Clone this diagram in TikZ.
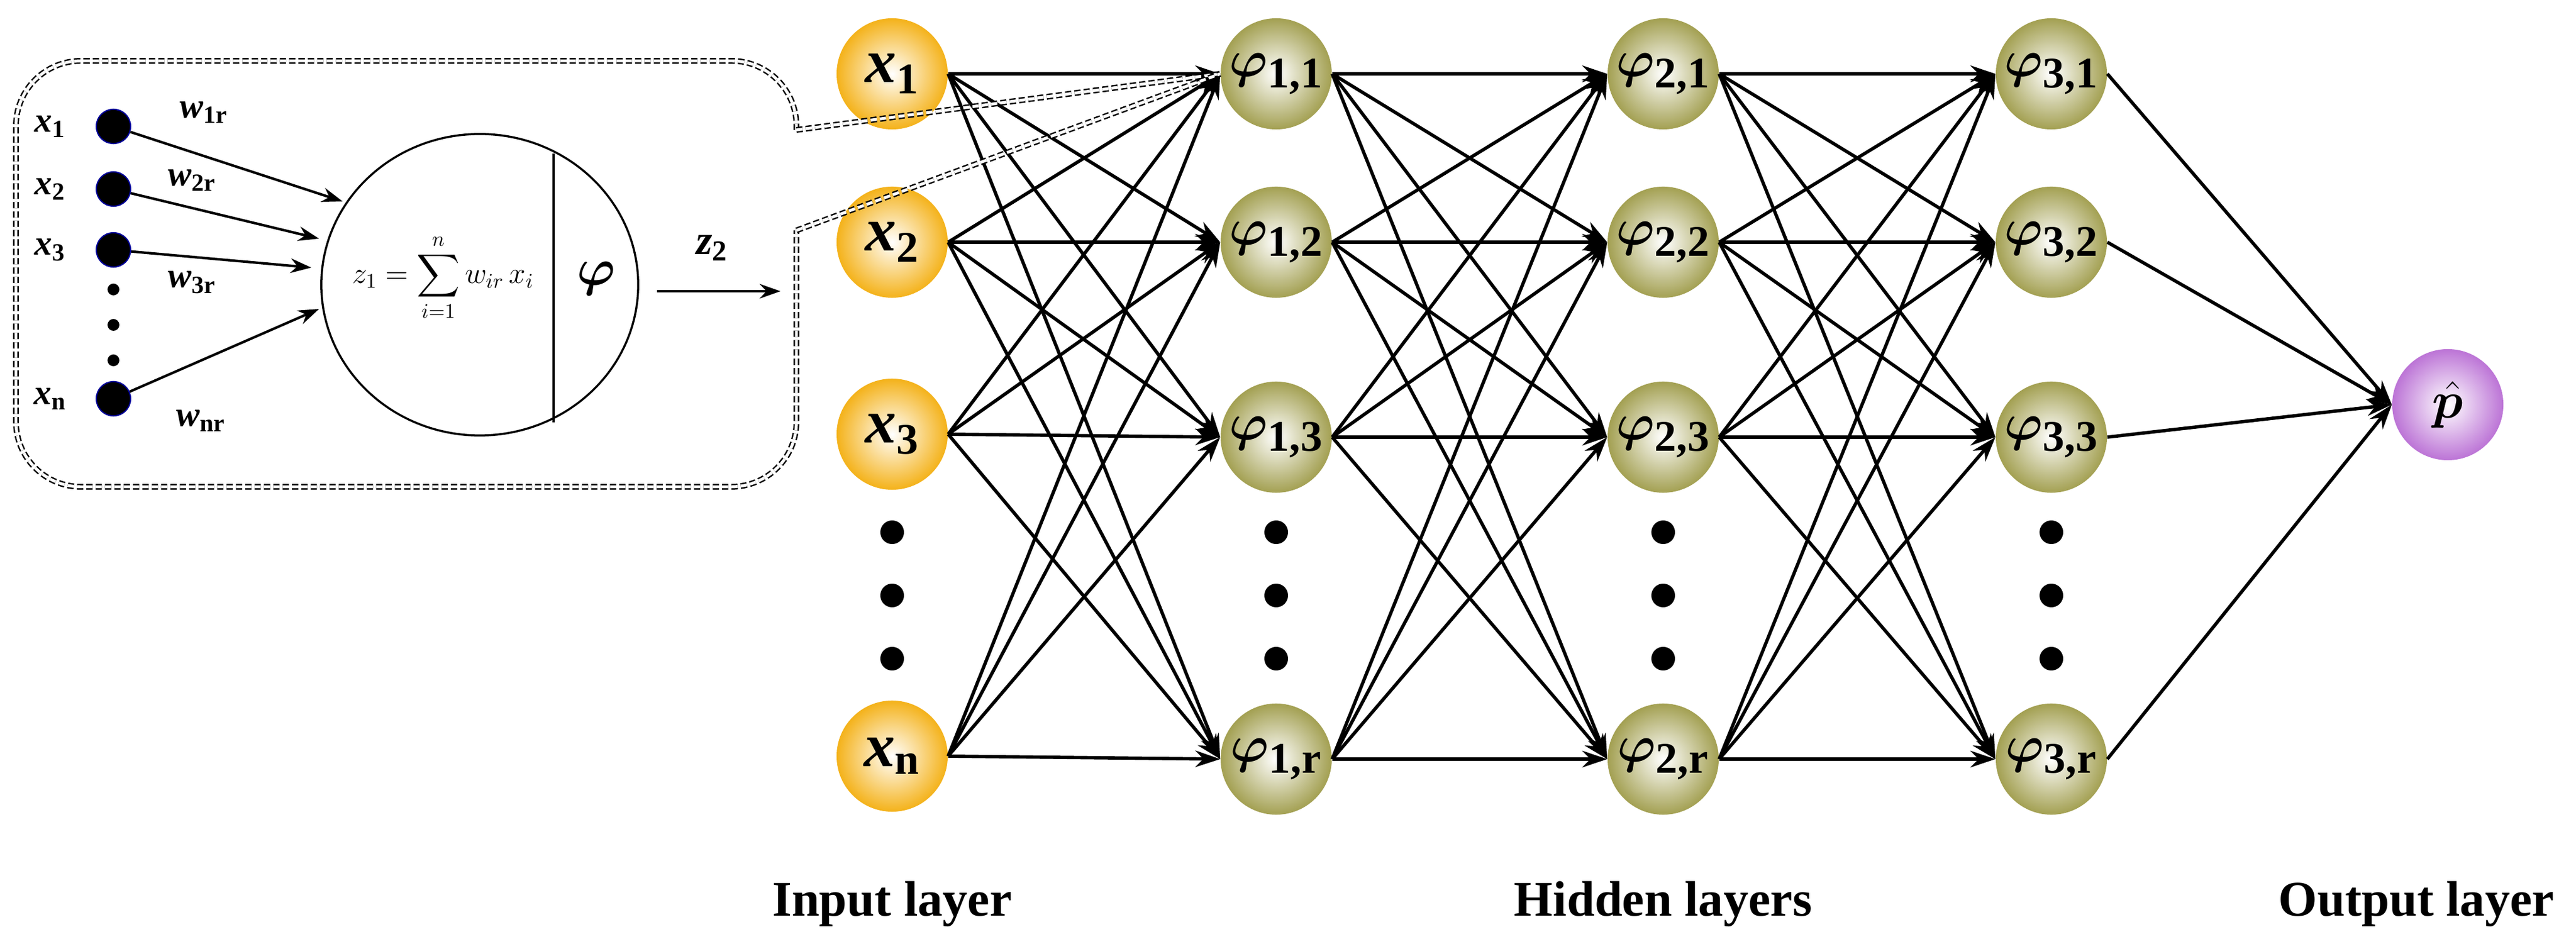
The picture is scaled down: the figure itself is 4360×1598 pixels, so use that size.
\documentclass[tikz,border=0pt]{standalone}
\usepackage{amsmath,bm}
\usepackage{fontspec}
\setmainfont{Liberation Serif}
\usetikzlibrary{arrows.meta,shapes.geometric}
\definecolor{yel}{HTML}{F4B21A}
\definecolor{oli}{HTML}{A3A052}
\definecolor{pur}{HTML}{BC74D6}
\begin{document}
\begin{tikzpicture}[x=0.01cm,y=-0.01cm,
  neuron/.style={circle,minimum size=1.88cm,inner sep=0pt,font=\fontsize{30}{32}\selectfont\bfseries},
  inp/.style={neuron,shading=radial,inner color=white,outer color=yel},
  hid/.style={neuron,shading=radial,inner color=white,outer color=oli},
  outn/.style={neuron,shading=radial,inner color=white,outer color=pur},
  conn/.style={-{Stealth[length=12pt,width=8pt]},line width=1.6pt},
  iconn/.style={-{Stealth[length=10pt,width=7pt]},line width=1.2pt},
  dbl/.style={double,line width=0.7pt,double distance=1.4pt,dash pattern=on 3pt off 1.5pt},
  dot/.style={circle,fill=black,minimum size=0.4cm,inner sep=0pt},
  lay/.style={font=\fontsize{24}{26}\selectfont\bfseries},
  ilab/.style={font=\fontsize{17}{19}\selectfont\bfseries\itshape},
  idot/.style={circle,fill=black,draw=blue!60!black,line width=0.6pt,minimum size=0.58cm,inner sep=0pt},
  sdot/.style={circle,fill=black,minimum size=0.2cm,inner sep=0pt}]
\useasboundingbox (0,0) rectangle (4360,1598);
\newcommand{\ph}[2]{$\bm{\varphi}_{\textbf{#1,#2}}$}
% network nodes
\foreach \r/\y/\s in {1/125/1,2/410/2,3/735/3,r/1280/n}{
  \node[inp] (x\r) at (1510,\y) {\textbf{\textit{x}}\textsubscript{\textbf{\s}}};
}
\foreach \L/\xx in {1/2160,2/2815,3/3472}{
  \foreach \r/\y/\s in {1/125/1,2/410/2,3/740/3,r/1285/r}{
    \node[hid] (h\L\r) at (\xx,\y) {\ph{\L}{\s}};
  }
}
\node[outn] (p) at (4143,685) {$\bm{\hat{p}}$};
% dots
\foreach \xx/\n in {1510/a,2160/b,2815/c,3472/d}{
  \node[dot] (d\n1) at (\xx,901) {};
  \node[dot] (d\n2) at (\xx,1008) {};
  \node[dot] (d\n3) at (\xx,1115) {};
}
% connections
\foreach \a in {1,2,3,r}{\foreach \b in {1,2,3,r}{
  \draw[conn] (x\a.east) -- (h1\b.west);
  \draw[conn] (h1\a.east) -- (h2\b.west);
  \draw[conn] (h2\a.east) -- (h3\b.west);
}}
\foreach \a in {1,2,3,r}{\draw[conn] (h3\a.east) -- (p.west);}
% labels
\node[lay] (l1) at (1510,1530) {Input layer};
\node[lay] (l2) at (2815,1530) {Hidden layers};
\node[lay] (l3) at (4090,1530) {Output layer};
% inset
\coordinate (c1) at (1348,220);
\coordinate (c2) at (1348,390);
\draw[dbl,rounded corners=1.1cm] (c1) -- (1348,103) -- (27,103) -- (27,824) -- (1348,824) -- (c2);
\draw[dbl] (c1) -- (h11.west);
\draw[dbl] (c2) -- (h11.west);
\node[draw,ellipse,line width=1pt,minimum width=5.36cm,minimum height=5.1cm] (cell) at (812,482) {};
\coordinate (vt) at (937,260);
\coordinate (vb) at (937,715);
\draw[line width=1pt] (vt) -- (vb);
\node[font=\fontsize{14}{16}\selectfont] (f) at (750,470) {$\displaystyle z_1=\sum_{i=1}^{n}w_{ir}\,x_i$};
\node[font=\fontsize{24}{26}\selectfont] (phi) at (1009,472) {$\bm{\varphi}$};
\foreach \i/\y/\s in {1/214/1,2/320/2,3/423/3,n/675/n}{
  \node[idot] (i\i) at (192,\y) {};
  \node[ilab] (il\i) at (85,\y) {x\textsubscript{\upshape\s}};
}
\node[sdot] (s1) at (192,490) {};
\node[sdot] (s2) at (192,550) {};
\node[sdot] (s3) at (192,610) {};
\coordinate (e1) at (580,341);
\coordinate (e2) at (540,404);
\coordinate (e3) at (527,453);
\coordinate (en) at (540,523);
\draw[iconn] (i1) -- (e1);
\draw[iconn] (i2) -- (e2);
\draw[iconn] (i3) -- (e3);
\draw[iconn] (in) -- (en);
\node[ilab] (w1) at (345,190) {w\textsubscript{\upshape 1r}};
\node[ilab] (w2) at (325,305) {w\textsubscript{\upshape 2r}};
\node[ilab] (w3) at (325,478) {w\textsubscript{\upshape 3r}};
\node[ilab] (wn) at (340,712) {w\textsubscript{\upshape nr}};
\coordinate (za) at (1112,493);
\coordinate (zb) at (1321,493);
\draw[iconn] (za) -- (zb);
\node[ilab,font=\fontsize{20}{22}\selectfont\bfseries\itshape] (z2) at (1205,420) {z\textsubscript{\upshape 2}};
\end{tikzpicture}
\end{document}
